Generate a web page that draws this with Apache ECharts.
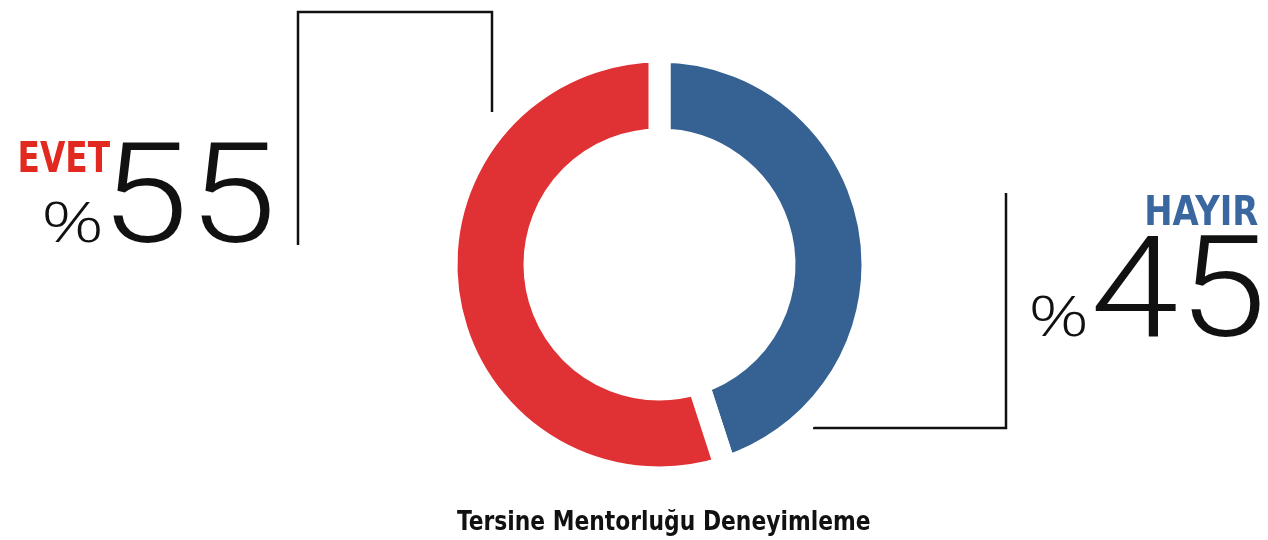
<!DOCTYPE html>
<html>
<head>
<meta charset="utf-8">
<script src="https://cdn.jsdelivr.net/npm/echarts@6/dist/echarts.min.js"></script>
<style>
  html, body { margin: 0; padding: 0; background: #fff; }
  #chart { width: 1268px; height: 540px; }
</style>
</head>
<body>
<div id="chart"></div>
<script>
// ---- data ----
const categories = ['HAYIR', 'EVET'];
const values = [45, 55];
const percentPrefix = '%';
const chartTitle = 'Tersine Mentorluğu Deneyimleme';

// ---- styles ----
const sliceColors = ['#366293', '#e03234'];
const labelColors = ['#3a67a0', '#e2291f'];
const inkColor = '#111';

const labelFont = (size) => 'bold ' + size + 'px "DejaVu Sans Condensed", "DejaVu Sans", sans-serif';
const numberFont = (size) => '300 ' + size + 'px Roboto, "Open Sans", sans-serif';
const percentFont = (size) => '300 ' + size + 'px "Open Sans", Roboto, sans-serif';

// Places text so that its drawn ink fills the given box (left, top, right, bottom).
const measureCtx = document.createElement('canvas').getContext('2d');
function fitText(text, font, color, box) {
  measureCtx.font = font;
  measureCtx.textAlign = 'left';
  measureCtx.textBaseline = 'middle';
  const m = measureCtx.measureText(text);
  const L = m.actualBoundingBoxLeft, R = m.actualBoundingBoxRight;
  const A = m.actualBoundingBoxAscent, D = m.actualBoundingBoxDescent;
  const sx = (box[2] - box[0]) / (L + R);
  const sy = (box[3] - box[1]) / (A + D);
  return {
    type: 'text', silent: true,
    x: box[0] + L * sx, y: box[1] + A * sy, scaleX: sx, scaleY: sy,
    style: { text: text, font: font, fill: color, textAlign: 'left', textVerticalAlign: 'middle' }
  };
}

const chart = echarts.init(document.getElementById('chart'), null, { renderer: 'canvas' });

const lineStyle = { stroke: '#111', lineWidth: 2.5, fill: null };

const graphics = [
  // connector lines
  { type: 'polyline', silent: true, shape: { points: [[492, 112], [492, 12], [298, 12], [298, 245]] }, style: lineStyle },
  { type: 'polyline', silent: true, shape: { points: [[813, 428], [1006, 428], [1006, 193]] }, style: lineStyle },
  // EVET (left)
  fitText(categories[1], labelFont(44), labelColors[1], [20, 140, 110, 172]),
  fitText(percentPrefix, percentFont(60), inkColor, [45, 201, 101, 243]),
  fitText(String(values[1]), numberFont(140), inkColor, [113, 142, 270, 243]),
  // HAYIR (right)
  fitText(categories[0], labelFont(41), labelColors[0], [1147, 195, 1258, 225]),
  fitText(percentPrefix, percentFont(60), inkColor, [1032, 294, 1086, 337]),
  fitText(String(values[0]), numberFont(142), inkColor, [1095, 235, 1260, 337]),
  // title
  fitText(chartTitle, labelFont(29), inkColor, [457, 509, 870, 536])
];

chart.setOption({
  animation: false,
  backgroundColor: '#fff',
  series: [{
    type: 'pie',
    silent: true,
    center: [659.5, 264.5],
    radius: [125, 213],
    startAngle: 90,
    clockwise: true,
    label: { show: false },
    labelLine: { show: false },
    itemStyle: { borderColor: '#fff', borderWidth: 22 },
    data: categories.map((c, i) => ({ name: c, value: values[i], itemStyle: { color: sliceColors[i] } }))
  }],
  graphic: graphics
});
</script>
</body>
</html>
